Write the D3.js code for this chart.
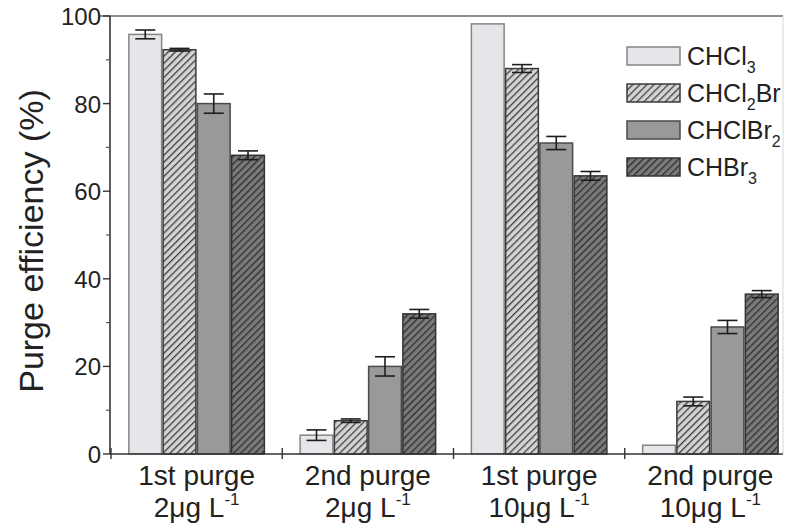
<!DOCTYPE html>
<html>
<head>
<meta charset="utf-8">
<script src="https://cdn.jsdelivr.net/npm/d3@7"></script>
<style>
  html, body { margin: 0; padding: 0; background: #fff; }
  svg { display: block; font-family: "Liberation Sans", Arial, sans-serif; }
</style>
</head>
<body>
<svg id="chart" width="793" height="530"></svg>
<script>
// Purge efficiency of four trihalomethanes in successive purges at two concentrations
const groups = ["g1", "g2", "g3", "g4"];
const groupLine1 = ["1st purge", "2nd purge", "1st purge", "2nd purge"];
const groupConc = ["2μg L", "2μg L", "10μg L", "10μg L"];
const compounds = ["CHCl3", "CHCl2Br", "CHClBr2", "CHBr3"];

const chcl3 = [95.8, 4.3, 98.2, 2.0];
const chcl2br = [92.3, 7.6, 88.0, 12.0];
const chclbr2 = [80.0, 20.0, 71.0, 29.0];
const chbr3 = [68.2, 32.0, 63.5, 36.5];

const chcl3Err = [1.0, 1.2, 0, 0];
const chcl2brErr = [0.3, 0.4, 0.9, 1.0];
const chclbr2Err = [2.2, 2.2, 1.5, 1.5];
const chbr3Err = [1.0, 1.0, 1.0, 0.8];

const yTicks = [0, 20, 40, 60, 80, 100];
const yMinorTicks = [10, 30, 50, 70, 90];

const seriesValues = [chcl3, chcl2br, chclbr2, chbr3];
const seriesErrors = [chcl3Err, chcl2brErr, chclbr2Err, chbr3Err];

const svg = d3.select("#chart");
const plotLeft = 110, plotRight = 783, plotTop = 16, plotBottom = 454;

const x = d3.scaleBand().domain(groups).range([111, 796]).paddingInner(0.2).paddingOuter(0.1);
const xs = d3.scaleBand().domain(compounds).range([0, x.bandwidth()]);
const y = d3.scaleLinear().domain([0, 100]).range([plotBottom, plotTop]);

// Fill patterns
const defs = svg.append("defs");
function hatch(id, bg, line, w) {
  const p = defs.append("pattern").attr("id", id).attr("patternUnits", "userSpaceOnUse")
    .attr("width", 5).attr("height", 5).attr("patternTransform", "rotate(45)");
  p.append("rect").attr("width", 5).attr("height", 5).attr("fill", bg);
  p.append("line").attr("x1", 0).attr("y1", 0).attr("x2", 0).attr("y2", 5)
    .attr("stroke", line).attr("stroke-width", w);
}
hatch("hatchLight", "#d4d4d4", "#3e3e3e", 2.6);
hatch("hatchDark", "#7a7a7a", "#2e2e2e", 2.6);

const styles = {
  CHCl3: { fill: "#e6e6ea", stroke: "#858585" },
  CHCl2Br: { fill: "url(#hatchLight)", stroke: "#3a3a3a" },
  CHClBr2: { fill: "#999999", stroke: "#4a4a4a" },
  CHBr3: { fill: "url(#hatchDark)", stroke: "#333333" }
};

// Frame lines: top and right
svg.append("line").attr("x1", 100).attr("x2", plotRight).attr("y1", plotTop).attr("y2", plotTop)
  .attr("stroke", "#6a6a6a").attr("stroke-width", 1.6);
svg.append("line").attr("x1", plotRight).attr("x2", plotRight).attr("y1", plotTop).attr("y2", plotBottom)
  .attr("stroke", "#d8d8d8").attr("stroke-width", 1);

// Bars
compounds.forEach((c, si) => {
  const g = svg.append("g");
  g.selectAll("rect").data(groups).join("rect")
    .attr("x", d => x(d) + xs(c) + 0.75)
    .attr("width", xs.bandwidth() - 1.5)
    .attr("y", (d, i) => y(seriesValues[si][i]))
    .attr("height", (d, i) => y(0) - y(seriesValues[si][i]))
    .attr("fill", styles[c].fill)
    .attr("stroke", styles[c].stroke)
    .attr("stroke-width", 1.5);
});

// Error bars
compounds.forEach((c, si) => {
  groups.forEach((gname, i) => {
    const e = seriesErrors[si][i];
    if (!e) return;
    const v = seriesValues[si][i];
    const cx = x(gname) + xs(c) + xs.bandwidth() / 2;
    const eg = svg.append("g").attr("stroke", "#1e1e1e").attr("stroke-width", 1.6);
    eg.append("line").attr("x1", cx).attr("x2", cx).attr("y1", y(v + e)).attr("y2", y(v - e));
    [v + e, v - e].forEach(t => {
      eg.append("line").attr("x1", cx - 10).attr("x2", cx + 10).attr("y1", y(t)).attr("y2", y(t));
    });
  });
});

// Y axis
const yAxis = svg.append("g");
yAxis.append("line").attr("x1", plotLeft).attr("x2", plotLeft).attr("y1", plotTop).attr("y2", plotBottom)
  .attr("stroke", "#333").attr("stroke-width", 1.6);
yAxis.selectAll(".major").data(yTicks).join("line")
  .attr("x1", plotLeft - 7).attr("x2", plotLeft).attr("y1", d => y(d)).attr("y2", d => y(d))
  .attr("stroke", "#333").attr("stroke-width", 1.4);
yAxis.selectAll(".minor").data(yMinorTicks).join("line")
  .attr("x1", plotLeft - 4).attr("x2", plotLeft).attr("y1", d => y(d)).attr("y2", d => y(d))
  .attr("stroke", "#555").attr("stroke-width", 1.2);
yAxis.selectAll("text").data(yTicks).join("text")
  .attr("x", plotLeft - 9).attr("y", d => y(d) + 9)
  .attr("text-anchor", "end").attr("font-size", 24).attr("fill", "#222")
  .text(d => d);

svg.append("text")
  .attr("transform", `translate(43, ${(plotTop + plotBottom) / 2 + 6}) rotate(-90)`)
  .attr("text-anchor", "middle").attr("font-size", 34).attr("fill", "#222")
  .text("Purge efficiency (%)");

// X axis
const xAxis = svg.append("g");
xAxis.append("line").attr("x1", plotLeft).attr("x2", plotRight).attr("y1", plotBottom).attr("y2", plotBottom)
  .attr("stroke", "#333").attr("stroke-width", 1.6);
const boundaries = groups.map(g => x(g) - x.step() * x.paddingInner() / 2);
xAxis.selectAll(".tick").data(boundaries).join("line")
  .attr("x1", d => Math.max(d, plotLeft)).attr("x2", d => Math.max(d, plotLeft))
  .attr("y1", plotBottom - 6).attr("y2", plotBottom + 5)
  .attr("stroke", "#333").attr("stroke-width", 1.4);

groups.forEach((g, i) => {
  const cx = x(g) + x.bandwidth() / 2;
  xAxis.append("text").attr("x", cx).attr("y", plotBottom + 31)
    .attr("text-anchor", "middle").attr("font-size", 28).attr("fill", "#222")
    .text(groupLine1[i]);
  const t = xAxis.append("text").attr("x", cx).attr("y", plotBottom + 63)
    .attr("text-anchor", "middle").attr("font-size", 28).attr("fill", "#222");
  t.append("tspan").text(groupConc[i]);
  t.append("tspan").attr("font-size", 17).attr("dy", -12).text("-1");
});

// Legend
const legendParts = [
  [["CHCl", 0], ["3", 1]],
  [["CHCl", 0], ["2", 1], ["Br", 0]],
  [["CHClBr", 0], ["2", 1]],
  [["CHBr", 0], ["3", 1]]
];
const legend = svg.append("g").attr("transform", "translate(627, 47)");
compounds.forEach((c, i) => {
  const ly = i * 37;
  legend.append("rect").attr("x", 0).attr("y", ly).attr("width", 53).attr("height", 18)
    .attr("fill", styles[c].fill).attr("stroke", styles[c].stroke).attr("stroke-width", 1.5);
  const t = legend.append("text").attr("x", 60).attr("y", ly + 18)
    .attr("font-size", 25).attr("fill", "#222");
  let sub = false;
  legendParts[i].forEach(([s, isSub]) => {
    const ts = t.append("tspan").text(s);
    if (isSub && !sub) { ts.attr("font-size", 16).attr("dy", 8); sub = true; }
    else if (!isSub && sub) { ts.attr("dy", -8); sub = false; }
  });
});
</script>
</body>
</html>
